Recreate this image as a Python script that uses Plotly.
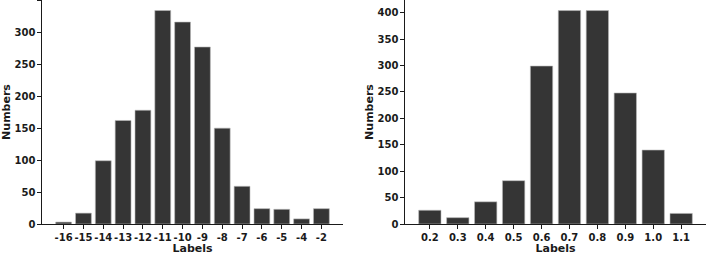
import plotly.graph_objects as go

left_labels = ["-16", "-15", "-14", "-13", "-12", "-11", "-10", "-9", "-8", "-7", "-6", "-5", "-4", "-2"]
left_values = [3, 17, 99, 162, 178, 334, 316, 277, 150, 59, 24, 23, 8, 24]

right_labels = ["0.2", "0.3", "0.4", "0.5", "0.6", "0.7", "0.8", "0.9", "1.0", "1.1"]
right_values = [26, 12, 42, 82, 299, 404, 404, 248, 140, 20]

bar_color = "#353535"
axis_color = "#1a1a1a"
tick_font = dict(family="DejaVu Sans", size=10, color=axis_color, weight="bold")
title_font = dict(family="DejaVu Sans", size=11, color=axis_color, weight="bold")

fig = go.Figure()
fig.add_trace(go.Bar(x=left_labels, y=left_values, width=0.8,
                     marker=dict(color=bar_color, line=dict(color="#bbbbbb", width=0.6)),
                     xaxis="x", yaxis="y", showlegend=False))
fig.add_trace(go.Bar(x=right_labels, y=right_values, width=0.8,
                     marker=dict(color=bar_color, line=dict(color="#bbbbbb", width=0.6)),
                     xaxis="x2", yaxis="y2", showlegend=False))

def xax(domain, n, anchor):
    return dict(domain=domain, anchor=anchor, type="category", automargin=False,
                range=[-0.4 - 0.05 * (n - 0.2), n - 0.6 + 0.05 * (n - 0.2)],
                showline=True, linecolor=axis_color, linewidth=1.2,
                ticks="outside", ticklen=3.5, tickwidth=1, tickcolor=axis_color,
                tickangle=0, showgrid=False, zeroline=False, tickfont=tick_font,
                title=dict(text="Labels", font=title_font, standoff=4))

def yax(anchor, rng, standoff):
    return dict(anchor=anchor, range=rng, dtick=50, automargin=False,
                showline=True, linecolor=axis_color, linewidth=1.2,
                ticks="outside", ticklen=3.5, tickwidth=1, tickcolor=axis_color,
                showgrid=False, zeroline=False, tickfont=tick_font,
                title=dict(text="Numbers", font=title_font, standoff=standoff))

fig.update_layout(
    width=708, height=255,
    margin=dict(l=0, r=0, t=0, b=31),
    paper_bgcolor="white", plot_bgcolor="white",
    xaxis=xax([42 / 708, 343 / 708], len(left_labels), "y"),
    yaxis=yax("x", [0, 350.5], 4),
    xaxis2=xax([405 / 708, 706 / 708], len(right_labels), "y2"),
    yaxis2=yax("x2", [0, 424], 1),
    bargap=0.2,
)

fig.write_html("out.html", config={"displayModeBar": False},
               post_script="document.body.style.margin='0';document.body.style.overflow='hidden';")
